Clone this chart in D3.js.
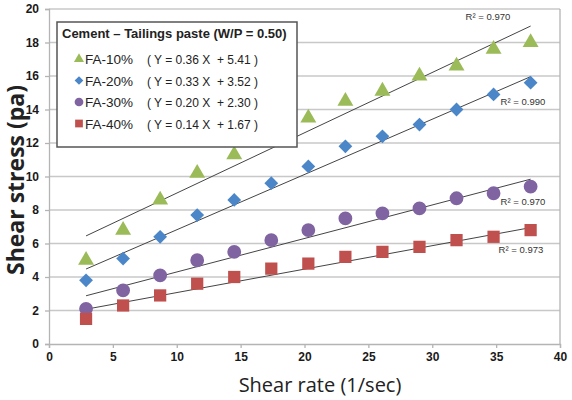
<!DOCTYPE html>
<html>
<head>
<meta charset="utf-8">
<script src="https://cdn.jsdelivr.net/npm/d3@7"></script>
<style>
  body { margin: 0; background: #fff; }
  svg text { font-family: "Liberation Sans", Arial, sans-serif; }
</style>
</head>
<body>
<div id="chart"></div>
<script>
// shear rate (1/sec) for each reading
const shearRate = [2.9, 5.8, 8.7, 11.6, 14.5, 17.4, 20.3, 23.2, 26.1, 29.0, 31.9, 34.8, 37.7];

// shear stress (pa) per mix
const fa10 = [5.0, 6.8, 8.6, 10.2, 11.3, 12.3, 13.5, 14.5, 15.1, 16.0, 16.6, 17.6, 18.0];
const fa20 = [3.8, 5.1, 6.4, 7.7, 8.6, 9.6, 10.6, 11.8, 12.4, 13.1, 14.0, 14.9, 15.6];
const fa30 = [2.1, 3.2, 4.1, 5.0, 5.5, 6.2, 6.8, 7.5, 7.8, 8.1, 8.7, 9.0, 9.4];
const fa40 = [1.5, 2.3, 2.9, 3.6, 4.0, 4.5, 4.8, 5.2, 5.5, 5.8, 6.2, 6.4, 6.8];

const seriesNames = ["FA-10%", "FA-20%", "FA-30%", "FA-40%"];
const slopes = [0.36, 0.33, 0.20, 0.14];
const intercepts = [5.41, 3.52, 2.30, 1.67];
const rSquared = ["0.970", "0.990", "0.970", "0.973"];

const xTicks = [0, 5, 10, 15, 20, 25, 30, 35, 40];
const yTicks = [0, 2, 4, 6, 8, 10, 12, 14, 16, 18, 20];

const series = [
  { name: seriesNames[0], values: fa10, color: "#9bbb59", symbol: d3.symbolTriangle, size: 110, rot: 0 },
  { name: seriesNames[1], values: fa20, color: "#4a86c8", symbol: d3.symbolSquare, size: 95, rot: 45 },
  { name: seriesNames[2], values: fa30, color: "#8064a2", symbol: d3.symbolCircle, size: 150, rot: 0 },
  { name: seriesNames[3], values: fa40, color: "#c0504d", symbol: d3.symbolSquare, size: 150, rot: 0 }
];

const width = 572;
const height = 400;

const x = d3.scaleLinear().domain([0, 40]).range([49, 560]);
const y = d3.scaleLinear().domain([0, 20]).range([344, 9]);

const svg = d3
  .select("#chart")
  .append("svg")
  .attr("width", width)
  .attr("height", height);

// grid lines
svg
  .append("g")
  .selectAll("line")
  .data(yTicks.filter(d => d > 0))
  .enter()
  .append("line")
  .attr("x1", x(0))
  .attr("x2", x(40))
  .attr("y1", d => y(d))
  .attr("y2", d => y(d))
  .attr("stroke", "#c8c8c8")
  .attr("stroke-width", 1.3);

// right border of plot area
svg
  .append("line")
  .attr("x1", x(40))
  .attr("x2", x(40))
  .attr("y1", y(20))
  .attr("y2", y(0))
  .attr("stroke", "#b4b4b4")
  .attr("stroke-width", 1.3);

// axes
const xAxis = svg
  .append("g")
  .attr("transform", `translate(0,${y(0)})`)
  .call(d3.axisBottom(x).tickValues(xTicks).tickSize(4).tickPadding(4));

const yAxis = svg
  .append("g")
  .attr("transform", `translate(${x(0)},0)`)
  .call(d3.axisLeft(y).tickValues(yTicks).tickSize(4).tickPadding(6));

[xAxis, yAxis].forEach(g => {
  g.select(".domain").attr("stroke", "#b4b4b4").attr("stroke-width", 1.3);
  g.selectAll(".tick line").attr("stroke", "#b4b4b4").attr("stroke-width", 1.3);
  g.selectAll(".tick text")
    .attr("fill", "#1a1a1a")
    .style("font-size", "12px")
    .style("font-weight", "bold")
    .style("font-family", "'Liberation Sans', Arial, sans-serif");
});

// trend lines
series.forEach((s, i) => {
  const xs = [shearRate[0], shearRate[shearRate.length - 1]];
  svg
    .append("line")
    .attr("x1", x(xs[0]))
    .attr("y1", y(slopes[i] * xs[0] + intercepts[i]))
    .attr("x2", x(xs[1]))
    .attr("y2", y(slopes[i] * xs[1] + intercepts[i]))
    .attr("stroke", "#444")
    .attr("stroke-width", 1);
});

// markers
series.forEach(s => {
  svg
    .append("g")
    .selectAll("path")
    .data(s.values)
    .enter()
    .append("path")
    .attr("d", d3.symbol().type(s.symbol).size(s.size))
    .attr("transform", (d, i) => `translate(${x(shearRate[i])},${y(d)}) rotate(${s.rot})`)
    .attr("fill", s.color);
});

// R² labels next to the line ends
const rLabelPos = [
  { dx: -65, dy: -6 },
  { dx: -30, dy: 28 },
  { dx: -30, dy: 26 },
  { dx: -32, dy: 25 }
];
series.forEach((s, i) => {
  const xe = shearRate[shearRate.length - 1];
  svg
    .append("text")
    .attr("x", x(xe) + rLabelPos[i].dx)
    .attr("y", y(slopes[i] * xe + intercepts[i]) + rLabelPos[i].dy)
    .attr("fill", "#333")
    .style("font-size", "9.5px")
    .style("font-family", "'Liberation Sans', sans-serif")
    .text(`R² = ${rSquared[i]}`);
});

// legend box
const legend = svg.append("g");
legend
  .append("rect")
  .attr("x", 57)
  .attr("y", 22)
  .attr("width", 240)
  .attr("height", 125)
  .attr("fill", "#fff")
  .attr("stroke", "#555")
  .attr("stroke-width", 1.5);

legend
  .append("text")
  .attr("x", 62)
  .attr("y", 38)
  .attr("fill", "#222")
  .style("font-size", "13px")
  .style("font-weight", "bold")
  .text("Cement \u2013 Tailings paste (W/P = 0.50)");

series.forEach((s, i) => {
  const ly = 59 + i * 21.5;
  legend
    .append("path")
    .attr("d", d3.symbol().type(s.symbol).size(s.size * 0.4))
    .attr("transform", `translate(79,${ly}) rotate(${s.rot})`)
    .attr("fill", s.color);
  legend
    .append("text")
    .attr("x", 85)
    .attr("y", ly + 5)
    .attr("fill", "#222")
    .style("font-size", "13.5px")
    .text(s.name);
  legend
    .append("text")
    .attr("x", 147)
    .attr("y", ly + 5)
    .attr("fill", "#222")
    .style("font-size", "12px")
    .style("white-space", "pre")
    .text(`( Y = ${slopes[i].toFixed(2)} X  + ${intercepts[i].toFixed(2)} )`);
});

// axis titles
svg
  .append("text")
  .attr("x", 320)
  .attr("y", 392)
  .attr("text-anchor", "middle")
  .attr("fill", "#222")
  .style("font-size", "20px")
  .style("font-family", "'Open Sans', sans-serif")
  .text("Shear rate (1/sec)");

svg
  .append("text")
  .attr("transform", `translate(24,180) rotate(-90)`)
  .attr("text-anchor", "middle")
  .attr("fill", "#222")
  .style("font-size", "23px")
  .style("font-weight", "bold")
  .style("font-family", "'Open Sans', sans-serif")
  .text("Shear stress (pa)");
</script>
</body>
</html>
